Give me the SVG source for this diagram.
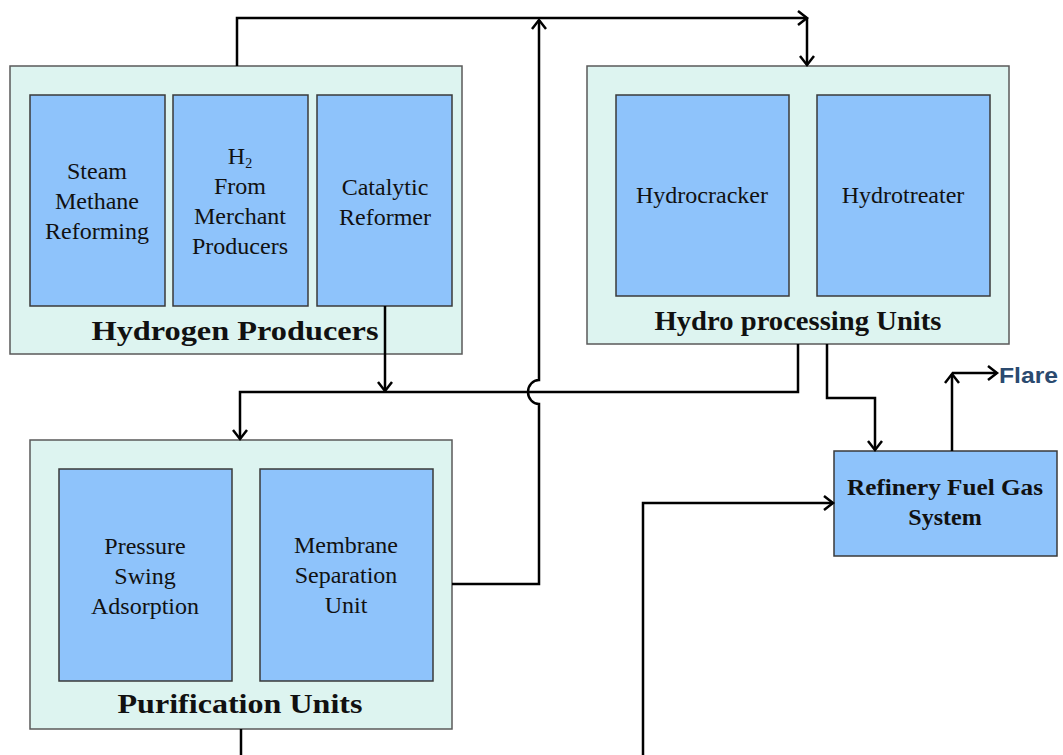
<svg xmlns="http://www.w3.org/2000/svg" width="1063" height="755" viewBox="0 0 1063 755">
  <style>
    .group { fill: #DDF4F0; stroke: #5a5a5a; stroke-width: 1.5; }
    .unit { fill: #8EC3FB; stroke: #3a3a3a; stroke-width: 1.5; }
    .lbl { font-family: "Liberation Serif", "Times New Roman", serif; font-size: 24px; fill: #111; text-anchor: middle; }
    .ttl { font-family: "Liberation Serif", "Times New Roman", serif; font-size: 28px; font-weight: bold; fill: #111; text-anchor: middle; }
    .flow { fill: none; stroke: #000; stroke-width: 2.5; }
    .arr { marker-end: url(#chev); }
    .flare { font-family: "Liberation Sans", Arial, sans-serif; font-size: 22px; font-weight: bold; fill: #2B4A6F; }
  </style>
  <defs>
    <marker id="chev" viewBox="-13 -10 16 20" refX="0" refY="0" markerWidth="16" markerHeight="20" markerUnits="userSpaceOnUse" orient="auto">
      <path d="M-9,-7 L0,0 L-9,7" fill="none" stroke="#000" stroke-width="2.5"/>
    </marker>
  </defs>

  <rect width="1063" height="755" fill="#fff"/>

  <!-- Hydrogen producers -->
  <g id="hydrogen-producers">
    <rect class="group" x="10" y="66" width="452" height="288"/>
    <text class="ttl" x="235" y="340" textLength="287" lengthAdjust="spacingAndGlyphs">Hydrogen Producers</text>
  </g>
  <g id="steam-methane-reforming">
    <rect class="unit" x="30" y="95" width="135" height="211"/>
    <text class="lbl" x="97" y="179">Steam</text>
    <text class="lbl" x="97" y="209">Methane</text>
    <text class="lbl" x="97" y="239">Reforming</text>
  </g>
  <g id="merchant-h2">
    <rect class="unit" x="173" y="95" width="135" height="211"/>
    <text class="lbl" x="240" y="164">H<tspan font-size="14" dy="4">2</tspan></text>
    <text class="lbl" x="240" y="194">From</text>
    <text class="lbl" x="240" y="224">Merchant</text>
    <text class="lbl" x="240" y="254">Producers</text>
  </g>
  <g id="catalytic-reformer">
    <rect class="unit" x="317" y="95" width="135" height="211"/>
    <text class="lbl" x="385" y="195">Catalytic</text>
    <text class="lbl" x="385" y="225">Reformer</text>
  </g>

  <!-- Hydroprocessing units -->
  <g id="hydroprocessing-units">
    <rect class="group" x="587" y="66" width="422" height="278"/>
    <text class="ttl" x="798" y="330" textLength="287" lengthAdjust="spacingAndGlyphs">Hydro processing Units</text>
  </g>
  <g id="hydrocracker">
    <rect class="unit" x="616" y="95" width="173" height="201"/>
    <text class="lbl" x="702" y="203">Hydrocracker</text>
  </g>
  <g id="hydrotreater">
    <rect class="unit" x="817" y="95" width="173" height="201"/>
    <text class="lbl" x="903" y="203">Hydrotreater</text>
  </g>

  <!-- Purification units -->
  <g id="purification-units">
    <rect class="group" x="30" y="440" width="422" height="289"/>
    <text class="ttl" x="240" y="713" textLength="245" lengthAdjust="spacingAndGlyphs">Purification Units</text>
  </g>
  <g id="pressure-swing-adsorption">
    <rect class="unit" x="59" y="469" width="173" height="212"/>
    <text class="lbl" x="145" y="554">Pressure</text>
    <text class="lbl" x="145" y="584">Swing</text>
    <text class="lbl" x="145" y="614">Adsorption</text>
  </g>
  <g id="membrane-separation">
    <rect class="unit" x="260" y="469" width="173" height="212"/>
    <text class="lbl" x="346" y="553">Membrane</text>
    <text class="lbl" x="346" y="583">Separation</text>
    <text class="lbl" x="346" y="613">Unit</text>
  </g>

  <!-- Refinery fuel gas -->
  <g id="refinery-fuel-gas">
    <rect class="unit" x="834" y="451" width="223" height="105"/>
    <text class="lbl" x="945" y="495" font-weight="bold" textLength="196" lengthAdjust="spacingAndGlyphs">Refinery Fuel Gas</text>
    <text class="lbl" x="945" y="525" font-weight="bold">System</text>
  </g>

  <!-- Flow lines -->
  <g id="connectors">
    <path class="flow arr" d="M237,66 V18 H807"/>
    <path class="flow arr" d="M807,18 V65"/>
    <path class="flow arr" d="M452,584 H539 V404 A11,12 0 0 1 539,380 V20"/>
    <path class="flow arr" d="M385,306 V391"/>
    <path class="flow arr" d="M798,344 V392 H240 V439"/>
    <path class="flow arr" d="M827,344 V398 H875 V450"/>
    <path class="flow arr" d="M952,451 V374"/>
    <path class="flow arr" d="M952,373 H997"/>
    <path class="flow arr" d="M643,755 V503 H833"/>
    <path class="flow" d="M241,729 V755"/>
  </g>

  <text id="flare" class="flare" x="999" y="383" textLength="59" lengthAdjust="spacingAndGlyphs">Flare</text>
</svg>
